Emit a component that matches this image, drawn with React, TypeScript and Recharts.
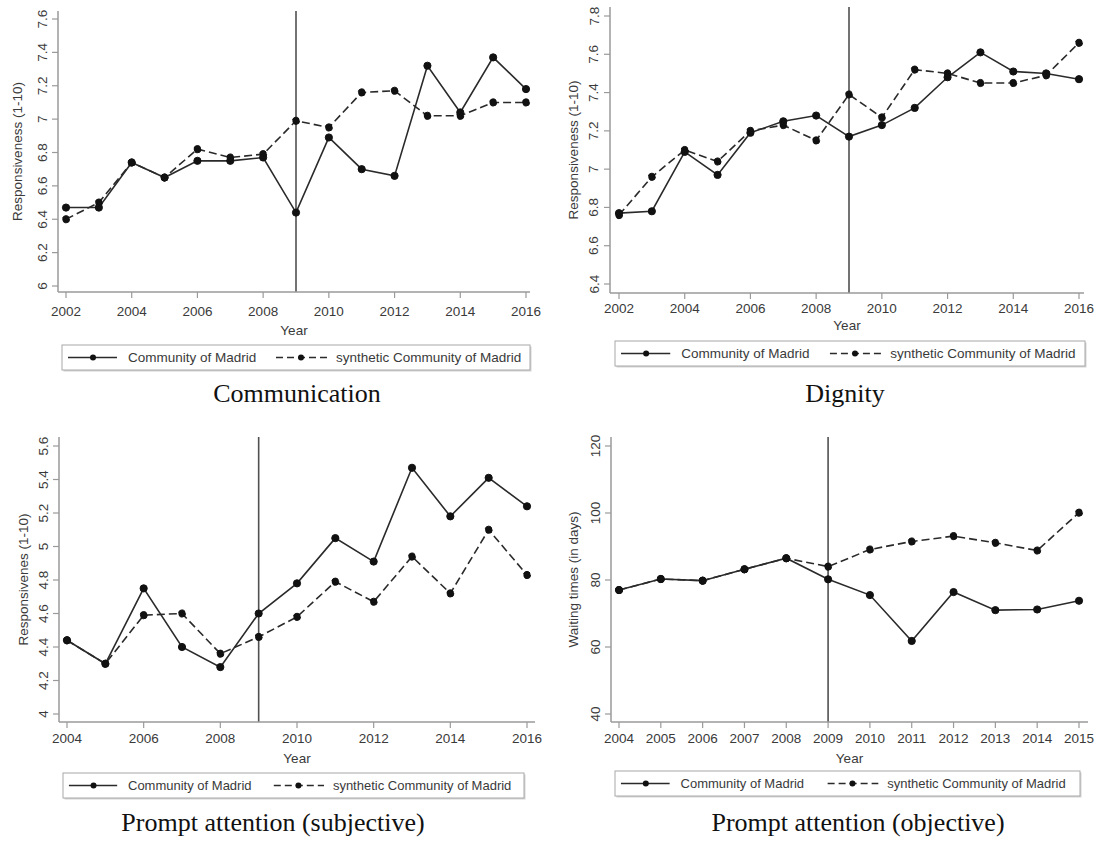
import React from 'react';
import { LineChart, Line, XAxis, YAxis, ReferenceLine } from 'recharts';

// Communication
const commYears = [2002, 2003, 2004, 2005, 2006, 2007, 2008, 2009, 2010, 2011, 2012, 2013, 2014, 2015, 2016];
const commMadrid = [6.47, 6.47, 6.74, 6.65, 6.75, 6.75, 6.77, 6.44, 6.89, 6.7, 6.66, 7.32, 7.04, 7.37, 7.18];
const commSynthetic = [6.4, 6.5, 6.74, 6.65, 6.82, 6.77, 6.79, 6.99, 6.95, 7.16, 7.17, 7.02, 7.02, 7.1, 7.1];
const commXTicks = [2002, 2004, 2006, 2008, 2010, 2012, 2014, 2016];
const commYTicks = [6, 6.2, 6.4, 6.6, 6.8, 7, 7.2, 7.4, 7.6];

// Dignity
const dignYears = [2002, 2003, 2004, 2005, 2006, 2007, 2008, 2009, 2010, 2011, 2012, 2013, 2014, 2015, 2016];
const dignMadrid = [6.77, 6.78, 7.09, 6.97, 7.19, 7.25, 7.28, 7.17, 7.23, 7.32, 7.48, 7.61, 7.51, 7.5, 7.47];
const dignSynthetic = [6.76, 6.96, 7.1, 7.04, 7.2, 7.23, 7.15, 7.39, 7.27, 7.52, 7.5, 7.45, 7.45, 7.49, 7.66];
const dignXTicks = [2002, 2004, 2006, 2008, 2010, 2012, 2014, 2016];
const dignYTicks = [6.4, 6.6, 6.8, 7, 7.2, 7.4, 7.6, 7.8];

// Prompt attention (subjective)
const subjYears = [2004, 2005, 2006, 2007, 2008, 2009, 2010, 2011, 2012, 2013, 2014, 2015, 2016];
const subjMadrid = [4.44, 4.3, 4.75, 4.4, 4.28, 4.6, 4.78, 5.05, 4.91, 5.47, 5.18, 5.41, 5.24];
const subjSynthetic = [4.44, 4.3, 4.59, 4.6, 4.36, 4.46, 4.58, 4.79, 4.67, 4.94, 4.72, 5.1, 4.83];
const subjXTicks = [2004, 2006, 2008, 2010, 2012, 2014, 2016];
const subjYTicks = [4, 4.2, 4.4, 4.6, 4.8, 5, 5.2, 5.4, 5.6];

// Prompt attention (objective) - waiting times in days
const objYears = [2004, 2005, 2006, 2007, 2008, 2009, 2010, 2011, 2012, 2013, 2014, 2015];
const objMadrid = [77.0, 80.3, 79.8, 83.2, 86.5, 80.2, 75.5, 61.8, 76.4, 71.0, 71.2, 73.8];
const objSynthetic = [77.0, 80.3, 79.8, 83.2, 86.5, 84.0, 89.1, 91.5, 93.1, 91.1, 88.8, 100.1];
const objXTicks = [2004, 2005, 2006, 2007, 2008, 2009, 2010, 2011, 2012, 2013, 2014, 2015];
const objYTicks = [40, 60, 80, 100, 120];

const TREATMENT_YEAR = 2009;
const seriesNames = ['Community of Madrid', 'synthetic Community of Madrid'];

const CHART_W = 548;
const CHART_H = 360;
const Y_AXIS_W = 50;
const X_AXIS_H = 50;

const AXIS = '#9a9a9a';
const TEXT = '#3a3a3a';
const LINE = '#2a2a2a';
const DOT = '#111';
const DOT_R = 3.6;
const SANS = '"Liberation Sans", Arial, sans-serif';
const SERIF = '"Liberation Serif", "Times New Roman", serif';

type Box = { left: number; right: number; top: number; bottom: number };

type PanelSpec = {
  id: string;
  x: number;
  y: number;
  years: number[];
  madrid: number[];
  synthetic: number[];
  xTicks: number[];
  yTicks: number[];
  yLabel: string;
  title: string;
  plot: Box;
  padX: [number, number];
  padY: [number, number];
  xTickMargin: number;
  yearOffset: number;
  yLabelOffset: number;
  legend: Box;
  legendFont: number;
  titleX: number;
  titleY: number;
};

const panels: PanelSpec[] = [
  {
    id: 'comm', x: 0, y: 0,
    years: commYears, madrid: commMadrid, synthetic: commSynthetic,
    xTicks: commXTicks, yTicks: commYTicks,
    yLabel: 'Responsiveness (1-10)', title: 'Communication',
    plot: { left: 58, right: 530, top: 11, bottom: 292 },
    padX: [8, 4], padY: [8, 6],
    xTickMargin: 8, yearOffset: 38, yLabelOffset: 41,
    legend: { left: 62, right: 530, top: 345, bottom: 370 }, legendFont: 13.5,
    titleX: 297, titleY: 402,
  },
  {
    id: 'dign', x: 548, y: 0,
    years: dignYears, madrid: dignMadrid, synthetic: dignSynthetic,
    xTicks: dignXTicks, yTicks: dignYTicks,
    yLabel: 'Responsiveness (1-10)', title: 'Dignity',
    plot: { left: 62, right: 536, top: 7, bottom: 293 },
    padX: [9, 5], padY: [9, 9],
    xTickMargin: 4, yearOffset: 32, yLabelOffset: 37,
    legend: { left: 615, right: 1085, top: 341, bottom: 366 }, legendFont: 13.5,
    titleX: 845, titleY: 402,
  },
  {
    id: 'subj', x: 0, y: 420,
    years: subjYears, madrid: subjMadrid, synthetic: subjSynthetic,
    xTicks: subjXTicks, yTicks: subjYTicks,
    yLabel: 'Responsivenes (1-10)', title: 'Prompt attention (subjective)',
    plot: { left: 59, right: 535, top: 17, bottom: 302 },
    padX: [8, 8], padY: [9, 8],
    xTickMargin: 5, yearOffset: 36, yLabelOffset: 36,
    legend: { left: 63, right: 524, top: 773, bottom: 798 }, legendFont: 13,
    titleX: 273, titleY: 831,
  },
  {
    id: 'obj', x: 548, y: 420,
    years: objYears, madrid: objMadrid, synthetic: objSynthetic,
    xTicks: objXTicks, yTicks: objYTicks,
    yLabel: 'Waiting times (in days)', title: 'Prompt attention (objective)',
    plot: { left: 63, right: 540, top: 17, bottom: 302 },
    padX: [8, 9], padY: [9, 8],
    xTickMargin: 5, yearOffset: 36, yLabelOffset: 38,
    legend: { left: 615, right: 1080, top: 771, bottom: 796 }, legendFont: 13,
    titleX: 858, titleY: 831,
  },
];

const RotatedTick = (props: any) => {
  const { x, y, payload } = props;
  return (
    <text
      x={x}
      y={y}
      transform={`rotate(-90 ${x} ${y})`}
      textAnchor="middle"
      dominantBaseline="central"
      fontSize={13.5}
      fontFamily={SANS}
      fill={TEXT}
    >
      {String(payload.value)}
    </text>
  );
};

function Panel({ spec }: { spec: PanelSpec }) {
  const { plot } = spec;
  const data = spec.years.map((year, i) => ({
    year,
    madrid: spec.madrid[i],
    synthetic: spec.synthetic[i],
  }));
  const margin = {
    top: plot.top,
    left: plot.left - Y_AXIS_W,
    right: CHART_W - plot.right,
    bottom: CHART_H - X_AXIS_H - plot.bottom,
  };
  const yMin = spec.yTicks[0];
  const yMax = spec.yTicks[spec.yTicks.length - 1];
  const midX = (plot.left + plot.right) / 2;
  const midY = (plot.top + plot.bottom) / 2;
  const labelX = plot.left - spec.yLabelOffset;

  return (
    <div style={{ position: 'absolute', left: spec.x, top: spec.y }}>
      <LineChart width={CHART_W} height={CHART_H} data={data} margin={margin}>
        <XAxis
          dataKey="year"
          type="number"
          domain={[spec.years[0], spec.years[spec.years.length - 1]]}
          ticks={spec.xTicks}
          interval={0}
          height={X_AXIS_H}
          padding={{ left: spec.padX[0], right: spec.padX[1] }}
          axisLine={{ stroke: AXIS, strokeWidth: 1.5 }}
          tickLine={{ stroke: AXIS, strokeWidth: 1.2 }}
          tickSize={6}
          tickMargin={spec.xTickMargin}
          tick={{ fill: TEXT, fontSize: 13.5, fontFamily: SANS }}
          label={() => (
            <text
              x={midX}
              y={plot.bottom + spec.yearOffset}
              textAnchor="middle"
              dominantBaseline="central"
              fontSize={13.5}
              fontFamily={SANS}
              fill={TEXT}
            >
              Year
            </text>
          )}
        />
        <YAxis
          type="number"
          domain={[yMin, yMax]}
          ticks={spec.yTicks}
          interval={0}
          width={Y_AXIS_W}
          padding={{ top: spec.padY[0], bottom: spec.padY[1] }}
          axisLine={{ stroke: AXIS, strokeWidth: 1.5 }}
          tickLine={{ stroke: AXIS, strokeWidth: 1.2 }}
          tickSize={6}
          tickMargin={10}
          tick={<RotatedTick />}
          label={() => (
            <text
              x={labelX}
              y={midY}
              transform={`rotate(-90 ${labelX} ${midY})`}
              textAnchor="middle"
              dominantBaseline="central"
              fontSize={13.5}
              fontFamily={SANS}
              fill={TEXT}
            >
              {spec.yLabel}
            </text>
          )}
        />
        <ReferenceLine x={TREATMENT_YEAR} stroke="#505050" strokeWidth={1.6} />
        <Line
          type="linear"
          dataKey="synthetic"
          name={seriesNames[1]}
          stroke={LINE}
          strokeWidth={1.6}
          strokeDasharray="8 4"
          dot={{ r: DOT_R, fill: DOT, stroke: DOT, strokeWidth: 1 }}
          activeDot={false}
          isAnimationActive={false}
        />
        <Line
          type="linear"
          dataKey="madrid"
          name={seriesNames[0]}
          stroke={LINE}
          strokeWidth={1.6}
          dot={{ r: DOT_R, fill: DOT, stroke: DOT, strokeWidth: 1 }}
          activeDot={false}
          isAnimationActive={false}
        />
      </LineChart>
    </div>
  );
}

function LegendBox({ box, font }: { box: Box; font: number }) {
  const { left: L, right: R, top: T, bottom: B } = box;
  const k = (R - L) / 468;
  const cy = (T + B) / 2;
  return (
    <g>
      <rect x={L + 1.5} y={T + 1.5} width={R - L} height={B - T} fill="#d4d4d4" />
      <rect x={L} y={T} width={R - L} height={B - T} fill="#fff" stroke="#a8a8a8" strokeWidth={1} />
      <line x1={L + 6 * k} x2={L + 55 * k} y1={cy} y2={cy} stroke={LINE} strokeWidth={1.6} />
      <circle cx={L + 31 * k} cy={cy} r={3} fill={DOT} />
      <text x={L + 66 * k} y={cy} dominantBaseline="central" fontSize={font} fontFamily={SANS} fill={TEXT}>
        {seriesNames[0]}
      </text>
      <line
        x1={R - 254 * k}
        x2={R - 203 * k}
        y1={cy}
        y2={cy}
        stroke={LINE}
        strokeWidth={1.6}
        strokeDasharray="7 4"
      />
      <circle cx={R - 229 * k} cy={cy} r={3} fill={DOT} />
      <text x={R - 194 * k} y={cy} dominantBaseline="central" fontSize={font} fontFamily={SANS} fill={TEXT}>
        {seriesNames[1]}
      </text>
    </g>
  );
}

export default function App() {
  return (
    <div
      style={{
        position: 'absolute',
        left: 0,
        top: 0,
        width: 1096,
        height: 841,
        background: '#fff',
        overflow: 'hidden',
      }}
    >
      {panels.map((p) => (
        <Panel key={p.id} spec={p} />
      ))}
      <svg
        width={1096}
        height={841}
        style={{ position: 'absolute', left: 0, top: 0, pointerEvents: 'none' }}
      >
        {panels.map((p) => (
          <g key={p.id}>
            <LegendBox box={p.legend} font={p.legendFont} />
            <text x={p.titleX} y={p.titleY} textAnchor="middle" fontSize={26} fontFamily={SERIF} fill="#111">
              {p.title}
            </text>
          </g>
        ))}
      </svg>
    </div>
  );
}
